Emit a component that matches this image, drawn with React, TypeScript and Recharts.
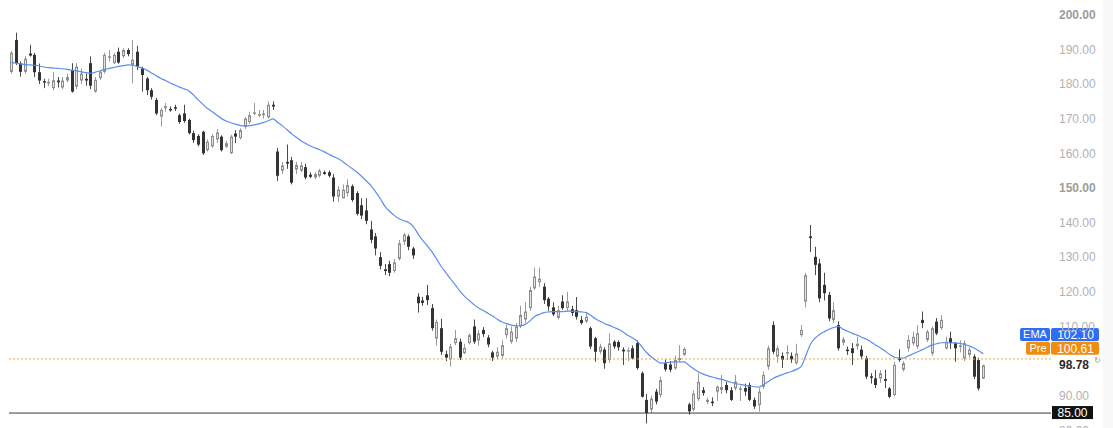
import { ComposedChart, Bar, Line, XAxis, YAxis, ReferenceLine } from "recharts";

// daily candles (209 sessions)
const opens = [
  183.5, 192.7, 186, 183.5, 188.8, 188.4, 183.4, 180.8, 180.3, 178.8,
  181, 179, 181, 184, 179.2, 181, 181.5, 186, 177.8, 181.7,
  183.5, 187.6, 186, 189.3, 188, 189.8, 185.5, 189.3, 184.5, 181.6,
  178.2, 175.4, 170.6, 173, 172.8, 173.3, 171, 171.5, 169.6, 165.8,
  165, 166.2, 160.9, 162, 164, 164.8, 161.9, 160, 165.7, 164.4,
  167.6, 169, 171.5, 171, 171, 170.4, 174, 160.5, 155, 157.5,
  158, 155.3, 155, 156, 153.8, 153, 153.5, 154.5, 154.5, 153,
  147.5, 147, 148.5, 150.5, 148.5, 145, 143.5, 138, 136, 130,
  126.5, 128, 126, 129.5, 134.5, 136, 132.5, 118.6, 117.5, 119,
  115.3, 106.5, 109.5, 102, 100.5, 105.2, 105.6, 102.3, 105.2, 110,
  106, 109, 106.8, 102.5, 101.3, 101.5, 107.5, 105.6, 106.5, 110,
  112, 115.3, 121, 122.8, 121.5, 118, 115.5, 112.5, 117.2, 115.3,
  115, 114.7, 111.9, 111.4, 109.5, 106.6, 102.7, 103.3, 100.3, 105.6,
  105.5, 103.3, 103, 103.7, 105.2, 96.5, 88.8, 86, 91.2, 90.2,
  99.4, 99, 97.9, 100.3, 101.8, 87.5, 86, 89, 91.6, 88.2,
  88.3, 91.2, 91.7, 93.1, 91.6, 92.1, 91.8, 92.2, 93.1, 88.8,
  87.3, 92.6, 98.4, 110.4, 101.3, 101.5, 102.3, 101.5, 99.4, 107.5,
  117.2, 136, 130.1, 128.2, 122, 119.1, 111.9, 110.4, 105.3, 103.3,
  103.7, 104.3, 103.3, 100.8, 95.6, 95, 95, 94.8, 92.1, 90.2,
  100.8, 97.5, 103.7, 105.1, 104.2, 111.9, 106.1, 102.2, 111.4, 109.5,
  103.7, 106.6, 105.2, 104.2, 100.8, 101.8, 101.3, 100.3, 95,
];

const highs = [
  189.5, 194.8, 186.5, 188, 191.3, 189, 185.9, 181.5, 181.5, 183.5,
  182, 182, 183, 186, 186, 184.5, 183, 188, 182, 184,
  189, 189.8, 189, 190.5, 190.3, 190.3, 192.7, 191, 185, 182,
  178.8, 176, 173, 174.5, 173.5, 174, 171.5, 174, 170, 166.5,
  165.5, 166.5, 164, 165.5, 167, 165.2, 163.5, 165.3, 166.7, 167.2,
  170.5, 172, 174.5, 172.5, 172.5, 175, 175, 161.5, 157.5, 162.5,
  159, 157.5, 157.5, 157, 154.5, 154.5, 155.5, 155, 155, 154,
  150.5, 151, 152.5, 151, 149, 147, 147, 140.5, 137, 131.5,
  128, 129, 129.5, 135, 137, 136.5, 133, 119.6, 118.5, 122,
  116.5, 112, 112.2, 103, 105, 109, 106.5, 105, 108, 112,
  109, 109.8, 107.5, 103, 104, 106, 110.5, 110, 111, 116,
  117, 121.5, 127, 127, 122.5, 118.5, 117, 116, 119, 120,
  116, 118.5, 113, 114, 110, 107, 105, 104, 108, 106,
  106, 104, 104, 104.5, 106, 97, 90.5, 90, 92, 95.5,
  100.5, 100, 101.5, 104.6, 104, 88, 91.5, 96.5, 92.5, 89.5,
  89.5, 93, 96, 94, 92.5, 96, 92.8, 93.5, 93.8, 89.5,
  92.2, 97, 104.5, 111.5, 104.5, 102.5, 104.6, 102.5, 105, 110.4,
  125.5, 139.3, 133, 129.5, 125.5, 120, 117, 111.5, 107, 104.2,
  105.2, 107, 104.5, 101.5, 96.5, 97.4, 97.4, 97.5, 92.5, 99.8,
  103.4, 100, 107.5, 108.5, 110.4, 114.3, 109, 110, 112.4, 113.3,
  107, 108.5, 105.5, 106, 106, 104, 102, 101, 99,
];

const lows = [
  183, 185.5, 182.1, 183, 187.9, 182, 180, 178.8, 179.4, 178.2,
  179, 178.5, 180.5, 177.5, 178.5, 180, 179.5, 178.5, 177.5, 181.2,
  183, 186.5, 185.8, 185.8, 187.5, 188, 180.2, 184, 177.8, 176.8,
  175.5, 171, 167.7, 172, 172, 172.2, 168.5, 168.8, 165.5, 163,
  162, 159.5, 160.5, 161.5, 163, 160.5, 161.5, 159.8, 162.9, 164,
  167, 168.5, 171, 170.4, 170, 170, 172.5, 152, 154, 155.5,
  151, 154, 154.5, 152.5, 152.8, 152.5, 153, 153.8, 153, 146,
  146, 147, 147.5, 146, 142, 141, 139.5, 134, 130.5, 126.5,
  124.8, 124.5, 125.5, 129, 133.5, 132, 129.5, 114, 116, 116.2,
  108.8, 104.5, 101.8, 100, 98.4, 104.6, 100.3, 102, 104.8, 105,
  104.5, 107, 104, 100, 100.5, 100.8, 106.5, 105, 105.5, 109.5,
  111, 114.5, 120.5, 121.5, 116.5, 114.5, 113, 112, 114.8, 114.5,
  113, 112, 110.5, 111, 103.5, 99.8, 102, 97.8, 99.5, 103.5,
  103, 98.9, 100, 100.5, 97.5, 89.5, 82, 85, 87.5, 89.5,
  97, 96.8, 97.5, 99.8, 101.5, 84.5, 85.5, 88.5, 90, 87.5,
  87, 88.5, 90.5, 90.7, 88.5, 91.5, 88.5, 90, 88.5, 86.2,
  85.4, 92, 97.5, 102, 99.5, 98, 100.3, 99.5, 99, 107,
  115.5, 131.5, 124.8, 117, 117.5, 111.5, 111, 103, 104.5, 101.8,
  98.9, 103.3, 100.5, 94.8, 93.5, 92.2, 93.7, 92.2, 89.3, 89.8,
  99.8, 97, 102.7, 104.5, 103.5, 109.5, 105.5, 101.5, 107.5, 109,
  103.3, 103.5, 99.8, 102.5, 100, 101, 94.8, 91.5, 94.8,
];

const closes = [
  189, 186, 183.5, 187.3, 188.2, 183.4, 181, 180.4, 180.6, 181.1,
  180.5, 181, 182, 177.8, 185, 183, 181, 179.5, 181.2, 183.5,
  188.4, 188, 188.4, 186.2, 189.8, 188.6, 187, 185, 182.6, 178.2,
  176.3, 171.5, 172.5, 173.6, 172.5, 172.9, 169, 169.3, 165.8, 163.8,
  162.5, 160, 163.3, 165, 166, 160.9, 162.9, 164.8, 164.8, 166.7,
  170, 171, 171.8, 171.3, 171.5, 174, 173.5, 153.5, 156.5, 157,
  151.5, 156.6, 156.5, 153, 153.2, 154, 155, 154, 153.5, 147.5,
  149.5, 149.5, 150.8, 146.5, 142.5, 142, 140.5, 135, 132.5, 127.5,
  126, 125.5, 128.5, 134, 136.5, 133, 130.5, 116.7, 116.8, 117.6,
  109.5, 111.3, 102.7, 101, 104.2, 106.6, 101, 103.8, 107.5, 105.6,
  108, 107.8, 104.8, 101, 102.7, 104.6, 109.5, 108.5, 110, 113.3,
  114.3, 120.5, 124.4, 123.8, 117.6, 115.8, 113.5, 114.7, 115.3, 117.2,
  113.9, 112.8, 111, 112.8, 104.2, 102.7, 104.2, 99.4, 105.1, 104.2,
  104, 102.8, 103.2, 100.8, 98, 89.7, 85, 89.2, 88.3, 94.5,
  97.6, 97.5, 100.3, 100.9, 103.5, 85.5, 90.6, 94, 90.8, 88.8,
  88, 92.6, 92.5, 91.6, 88.8, 94.1, 92.1, 91.2, 88.8, 86.9,
  91.2, 96, 103.7, 102.7, 103.7, 100.4, 102.6, 100.5, 102.2, 109,
  124.8, 135.5, 127.8, 118.1, 119.6, 112.3, 114.7, 103.7, 106.3, 103.1,
  102.3, 105, 101.4, 95.5, 95.3, 93.1, 96.5, 94.3, 89.7, 98.9,
  100.3, 99.4, 106.1, 107, 108, 111, 108.5, 109.5, 108, 111.9,
  105.6, 105.2, 103.7, 104.5, 105.2, 103.3, 95.5, 92.1, 98.78,
];

const emaValues = [
  186.2, 186.0, 185.8, 185.6, 185.5, 185.4, 185.2, 184.9, 184.7, 184.6,
  184.5, 184.4, 184.2, 184.0, 183.8, 183.5, 183.3, 183.1, 183.4, 183.8,
  184.2, 184.5, 184.8, 185.1, 185.3, 185.5, 185.4, 185.0, 184.6, 184.0,
  183.2, 182.4, 181.6, 181.0, 180.3, 179.7, 179.1, 178.6, 178.0, 176.8,
  175.4, 174.1, 172.9, 172.0, 171.0, 170.0, 169.3, 168.8, 168.4, 168.0,
  167.9, 168.0, 168.2, 168.5, 168.9, 169.4, 169.9, 168.9, 167.9, 166.8,
  165.6, 164.6, 163.6, 162.8, 162.1, 161.5, 161.0, 160.4, 159.7, 159.0,
  158.4, 157.5, 156.5, 155.5, 154.5, 153.3, 152.0, 150.6, 148.8, 146.8,
  144.6, 143.2, 142.0, 141.1, 140.5, 140.0, 138.9, 136.8, 134.9, 133.3,
  131.6, 129.5, 127.3, 125.5, 123.7, 122.0, 120.2, 118.7, 117.5, 116.3,
  115.3, 114.6, 113.8, 113.0, 112.1, 111.3, 110.8, 110.4, 110.2, 110.2,
  110.6, 111.6, 112.9, 113.5, 114.0, 114.2, 114.3, 114.3, 114.3, 114.4,
  114.4, 114.3, 114.2, 114.0, 113.2, 112.2, 111.5, 110.8, 110.3, 109.7,
  109.1, 108.3, 107.4, 106.6, 105.7, 104.0, 102.4, 101.2, 100.2, 99.4,
  99.5, 99.7, 99.8, 99.8, 99.8, 98.8, 97.8, 96.9, 96.3, 95.8,
  95.4, 95.0, 94.7, 94.3, 93.9, 93.5, 93.3, 93.0, 92.8, 92.6,
  92.5, 93.2, 94.1, 95.0, 95.6, 96.1, 96.6, 97.0, 97.6, 98.4,
  101.5, 104.8, 106.6, 107.7, 108.5, 109.2, 109.7, 110.0, 109.2, 108.6,
  108.0, 107.5, 106.9, 106.3, 105.5, 104.6, 103.8, 102.9, 101.9, 101.1,
  100.9, 100.9, 101.5, 102.1, 102.7, 103.3, 104.0, 104.6, 105.0, 105.3,
  105.3, 105.3, 105.2, 105.1, 104.8, 104.4, 103.8, 103.0, 102.1,
];

const yTicks = [80, 90, 110, 120, 130, 140, 150, 160, 170, 180, 190, 200];
const boldTicks = [150, 200];
const EMA_LAST = 102.1;
const PRE_MARKET = 100.61;
const LAST_PRICE = 98.78;
const LEVEL = 85;
const EMPTY_SLOTS = 14; // blank space to the right of the last candle

const FONT = '"Liberation Sans", Arial, sans-serif';

const rows = [
  ...opens.map((o, i) => ({
    i,
    o,
    h: highs[i],
    l: lows[i],
    c: closes[i],
    range: [lows[i], highs[i]],
    ema: emaValues[i],
  })),
  ...Array.from({ length: EMPTY_SLOTS }, (_, k) => ({ i: opens.length + k })),
];

function Candle(props: any) {
  const { x, y, width, height, payload } = props;
  if (!payload || payload.o == null || y == null) return null;
  const top = Math.min(y, y + height);
  const bottom = Math.max(y, y + height);
  const span = payload.h - payload.l;
  const ppu = span > 0 ? (bottom - top) / span : 0;
  const toY = (v: number) => top + (payload.h - v) * ppu;
  const cx = Math.floor(x + width / 2);
  const up = payload.c >= payload.o;
  const bTop = toY(Math.max(payload.o, payload.c));
  const bBot = toY(Math.min(payload.o, payload.c));
  const bh = Math.max(1.5, bBot - bTop);
  return (
    <g>
      <line
        x1={cx + 0.5}
        x2={cx + 0.5}
        y1={top}
        y2={bottom}
        stroke={up ? "#9a9a9a" : "#4a4a4a"}
        strokeWidth={1}
      />
      {up ? (
        <rect x={cx - 0.5} y={bTop + 0.5} width={2} height={Math.max(0.5, bh - 1)} fill="#e4e4e4" stroke="#8c8c8c" strokeWidth={1} />
      ) : (
        <rect x={cx - 1} y={bTop} width={3} height={bh} fill="#333333" />
      )}
    </g>
  );
}

function AxisTick({ x, y, payload }: any) {
  const bold = boldTicks.includes(payload.value);
  return (
    <text
      x={x}
      y={y}
      dy="0.355em"
      textAnchor="start"
      fontSize={12}
      fontFamily={FONT}
      fill={bold ? "#9c9c9c" : "#b2b2b2"}
      fontWeight={bold ? 700 : 400}
    >
      {payload.value.toFixed(2)}
    </text>
  );
}

function PriceTag({ viewBox, name, value, color, shift, nameWidth }: any) {
  if (!viewBox) return null;
  const x = viewBox.x + viewBox.width;
  const yc = viewBox.y + shift;
  return (
    <g fontFamily={FONT}>
      <rect x={x - nameWidth} y={yc - 6.5} width={nameWidth - 1} height={13} rx={2} fill={color} />
      <rect x={x} y={yc - 6.5} width={48} height={13} rx={2} fill={color} />
      <text x={x - nameWidth / 2 - 0.5} y={yc} dy="0.36em" textAnchor="middle" fill="#fff" fontSize={11}>
        {name}
      </text>
      <text x={x + 24.5} y={yc} dy="0.36em" textAnchor="middle" fill="#fff" fontSize={12}>
        {value.toFixed(2)}
      </text>
    </g>
  );
}

function LevelTag({ viewBox }: any) {
  if (!viewBox) return null;
  const x = viewBox.x + viewBox.width;
  const yc = viewBox.y;
  return (
    <g fontFamily={FONT} fontSize={12}>
      <rect x={x + 1} y={yc - 7} width={41} height={13} fill="#111" />
      <text x={x + 21.5} y={yc - 0.5} dy="0.36em" textAnchor="middle" fill="#fff">
        {LEVEL.toFixed(2)}
      </text>
    </g>
  );
}

function LastTag({ viewBox }: any) {
  if (!viewBox) return null;
  const x = viewBox.x + viewBox.width;
  const yc = viewBox.y;
  return (
    <g fontFamily={FONT}>
      <text x={x + 8} y={yc - 0.5} dy="0.355em" fontSize={12} fontWeight={700} fill="#2a2a2a">
        {LAST_PRICE.toFixed(2)}
      </text>
      <text x={x + 43} y={yc - 5} dy="0.355em" fontSize={8} fill="#9a9a9a">
        ↻
      </text>
    </g>
  );
}

export default function App() {
  return (
    <div
      style={{
        position: "absolute",
        left: 0,
        top: 0,
        width: 1113,
        height: 428,
        overflow: "hidden",
        background: "#fff",
      }}
    >
      <div style={{ position: "absolute", left: 1103, top: 0, width: 10, height: 428, background: "#f8f8f8" }} />
      <ComposedChart
        width={1113}
        height={440}
        data={rows}
        margin={{ top: 0, right: 0, bottom: 0, left: 9 }}
        barCategoryGap={0}
      >
        <XAxis dataKey="i" type="category" hide />
        <YAxis
          orientation="right"
          width={62}
          domain={[77.22, 204.244]}
          allowDataOverflow
          ticks={yTicks}
          interval={0}
          axisLine={false}
          tickLine={false}
          tick={<AxisTick />}
        />
        <ReferenceLine y={LEVEL} stroke="#3a3a3a" strokeWidth={1} label={(p: any) => <LevelTag viewBox={p.viewBox} />} />
        <ReferenceLine y={PRE_MARKET} stroke="#f5a43a" strokeWidth={1} strokeDasharray="2 2" />
        <Bar dataKey="range" shape={<Candle />} isAnimationActive={false} />
        <Line
          dataKey="ema"
          type="monotone"
          stroke="#5b8def"
          strokeWidth={1.2}
          dot={false}
          activeDot={false}
          isAnimationActive={false}
        />
        <ReferenceLine y={LAST_PRICE} stroke="none" label={(p: any) => <LastTag viewBox={p.viewBox} />} />
        <ReferenceLine
          y={PRE_MARKET}
          stroke="none"
          label={(p: any) => (
            <PriceTag viewBox={p.viewBox} name="Pre" value={PRE_MARKET} color="#f28c0f" shift={-10.7} nameWidth={25} />
          )}
        />
        <ReferenceLine
          y={EMA_LAST}
          stroke="none"
          label={(p: any) => (
            <PriceTag viewBox={p.viewBox} name="EMA" value={EMA_LAST} color="#2f6df5" shift={-19.3} nameWidth={31} />
          )}
        />
      </ComposedChart>
    </div>
  );
}
